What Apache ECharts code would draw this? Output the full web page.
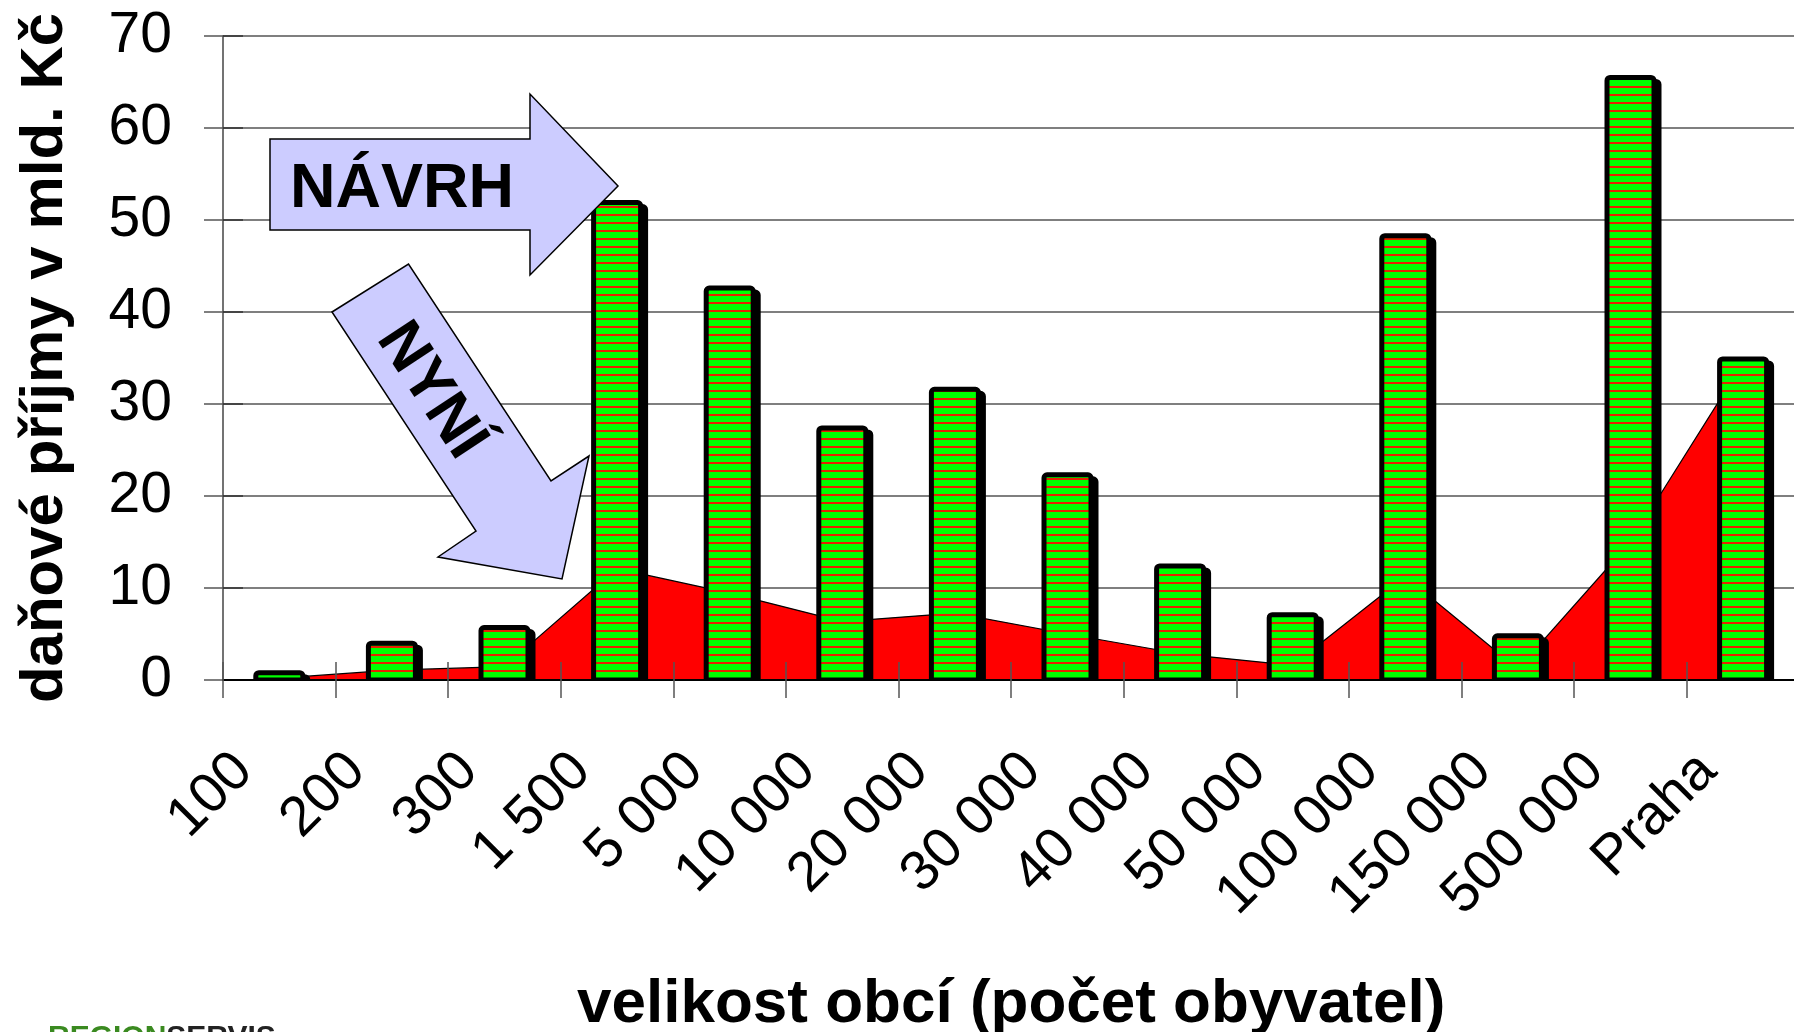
<!DOCTYPE html>
<html>
<head>
<meta charset="utf-8">
<script src="https://cdn.jsdelivr.net/npm/echarts@6/dist/echarts.min.js"></script>
<style>
  html, body { margin: 0; padding: 0; background: #fff; }
  #chart { width: 1794px; height: 1032px; }
</style>
</head>
<body>
<div id="chart"></div>
<script>
// velikost obci (pocet obyvatel)
let categories = ['100', '200', '300', '1 500', '5 000', '10 000', '20 000', '30 000',
  '40 000', '50 000', '100 000', '150 000', '500 000', 'Praha']
// NAVRH - sloupce
let proposal = [0.8, 4.0, 5.7, 51.9, 42.6, 27.4, 31.6, 22.3, 12.4, 7.1, 48.3, 4.8, 65.5, 34.9]
// NYNI - plocha
let current = [0.2, 1.07, 1.45, 12.1, 9.45, 6.35, 7.27, 5.0, 2.85, 1.6, 11.25, 1.2, 15.0, 34.5]
let yTicks = { min: 0, max: 70, interval: 10 }

const FONT = '"Liberation Sans", Arial, sans-serif'
const BAR_W = 47

// zelena vypln s tenkymi cervenymi prouzky
function stripes() {
  const c = document.createElement('canvas')
  c.width = 4
  c.height = 8
  const g = c.getContext('2d')
  g.fillStyle = '#00ff00'
  g.fillRect(0, 0, 4, 8)
  g.fillStyle = '#e82000'
  g.fillRect(0, 6, 4, 2)
  return c
}
const pattern = { image: stripes(), repeat: 'repeat' }

let chart = echarts.init(document.getElementById('chart'))

chart.setOption({
  animation: false,
  textStyle: { fontFamily: FONT },
  grid: { left: 223, top: 36, bottom: 352, right: -5.4, containLabel: false, outerBoundsMode: 'none' },
  xAxis: [
    {
      type: 'category',
      data: categories,
      boundaryGap: true,
      z: 5,
      axisLine: { lineStyle: { color: '#000', width: 2 } },
      axisTick: { show: true, length: 18, lineStyle: { color: '#555', width: 1.5 } },
      axisLabel: {
        rotate: 45, interval: 0, margin: 47, padding: [0, 50, 0, 0],
        fontSize: 56, color: '#000', fontFamily: FONT
      },
      name: 'velikost obcí (počet obyvatel)',
      nameLocation: 'middle',
      nameGap: 294,
      nameTextStyle: { fontSize: 62, fontWeight: 'bold', color: '#000', fontFamily: FONT }
    },
    {
      type: 'category',
      data: categories,
      boundaryGap: true,
      position: 'bottom',
      z: 5,
      axisLine: { show: false },
      axisTick: { show: true, inside: true, length: 18, lineStyle: { color: '#555', width: 1.5 } },
      axisLabel: { show: false }
    }
  ],
  yAxis: [
    {
      type: 'value',
      min: yTicks.min, max: yTicks.max, interval: yTicks.interval,
      axisLine: { show: true, lineStyle: { color: '#444', width: 1.5 } },
      axisTick: { show: true, length: 19, lineStyle: { color: '#555', width: 1.5 } },
      axisLabel: { fontSize: 57, color: '#000', margin: 51, fontFamily: FONT },
      splitLine: { show: true, lineStyle: { color: '#555', width: 1.5 } },
      name: 'daňové příjmy v mld. Kč',
      nameLocation: 'middle',
      nameGap: 148,
      nameTextStyle: { fontSize: 60, fontWeight: 'bold', color: '#000', fontFamily: FONT }
    },
    {
      type: 'value',
      position: 'left',
      min: yTicks.min, max: yTicks.max, interval: yTicks.interval,
      axisLine: { show: false },
      axisTick: { show: true, inside: true, length: 20, lineStyle: { color: '#333', width: 1.5 } },
      axisLabel: { show: false },
      splitLine: { show: false }
    }
  ],
  series: [
    {
      name: 'NYNÍ',
      type: 'line',
      data: current,
      symbol: 'none',
      z: 2,
      lineStyle: { color: '#000', width: 1.2 },
      areaStyle: { color: '#ff0000', opacity: 1 }
    },
    {
      name: 'NÁVRH',
      type: 'custom',
      z: 10,
      clip: true,
      encode: { x: 0, y: 1 },
      data: proposal.map((v, i) => [i, v]),
      renderItem(params, api) {
        const top = api.coord([api.value(0), api.value(1)])
        const base = api.coord([api.value(0), 0])
        const x = top[0] - BAR_W / 2
        const h = base[1] - top[1]
        return {
          type: 'group',
          children: [
            {
              type: 'rect',
              shape: { x: x + 5, y: top[1] + 4, width: BAR_W, height: h, r: [3, 3, 0, 0] },
              style: { fill: '#000', stroke: '#000', lineWidth: 5 }
            },
            {
              type: 'rect',
              shape: { x: x, y: top[1], width: BAR_W, height: h, r: [3, 3, 0, 0] },
              style: { fill: pattern, stroke: '#000', lineWidth: 5 }
            }
          ]
        }
      }
    }
  ],
  graphic: [
    {
      type: 'polygon',
      z: 20,
      shape: { points: [[270, 139], [530, 139], [530, 94], [618, 186], [530, 275], [530, 230], [270, 230]] },
      style: { fill: '#ccccff', stroke: '#000', lineWidth: 1.5 }
    },
    {
      type: 'text',
      z: 21,
      x: 402, y: 190,
      style: { text: 'NÁVRH', font: 'bold 63px ' + FONT, fill: '#000', align: 'center', verticalAlign: 'middle' }
    },
    {
      type: 'polygon',
      z: 20,
      shape: { points: [[332, 312], [408.5, 264], [551, 481], [589, 456], [562, 579], [438, 557], [476, 531]] },
      style: { fill: '#ccccff', stroke: '#000', lineWidth: 1.5 }
    },
    {
      type: 'text',
      z: 21,
      x: 431, y: 391,
      rotation: -56.6 * Math.PI / 180,
      style: { text: 'NYNÍ', font: 'bold 62px ' + FONT, fill: '#000', align: 'center', verticalAlign: 'middle' }
    },
    {
      type: 'text',
      z: 21,
      left: 48, top: 1023,
      style: {
        text: '{g|REGION}{b|SERVIS}',
        rich: {
          g: { font: 'bold 30px ' + FONT, fill: '#3a8a20' },
          b: { font: 'bold 30px ' + FONT, fill: '#222' }
        }
      }
    }
  ]
})
</script>
</body>
</html>
